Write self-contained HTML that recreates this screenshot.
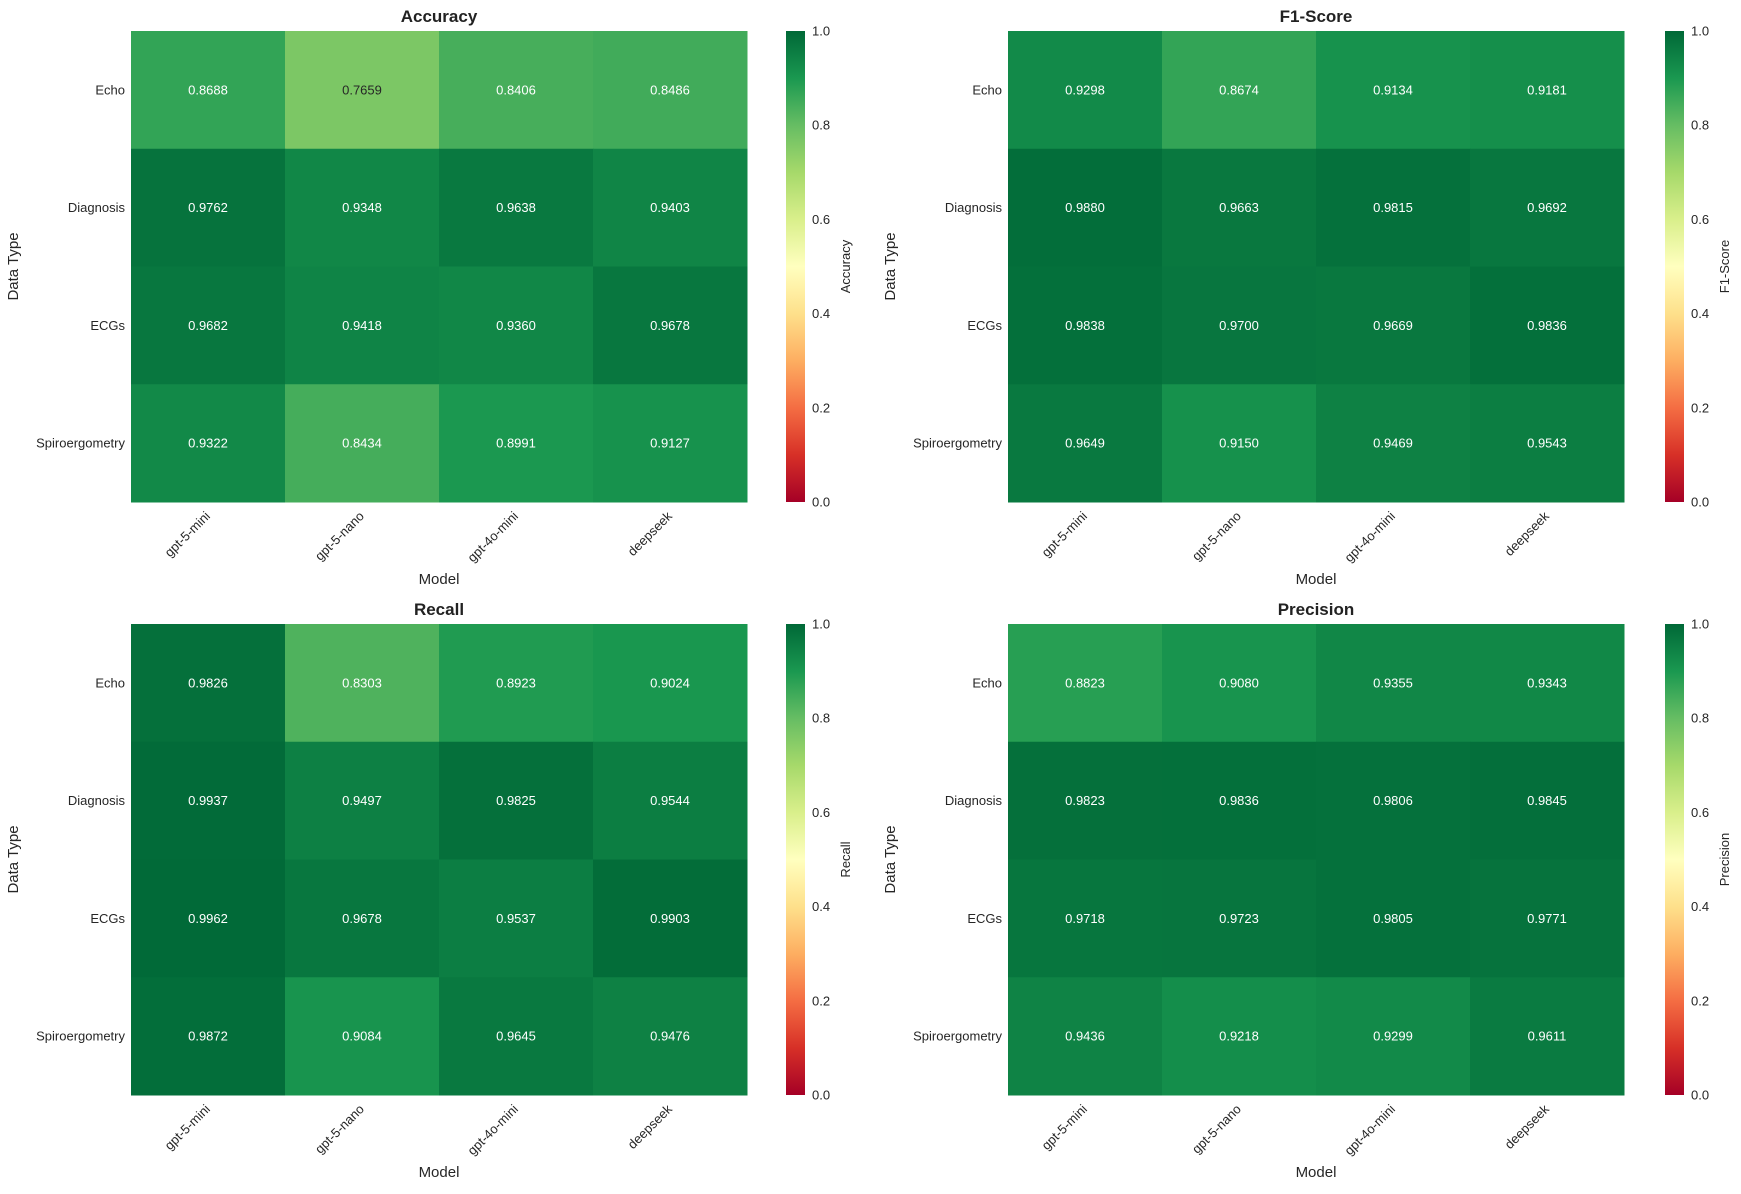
<!DOCTYPE html>
<html><head><meta charset="utf-8"><style>
body{margin:0;background:#fff;}
svg text{font-family:"Liberation Sans",Arial,sans-serif;}
</style></head><body>
<svg id="fig" width="1741" height="1189" xmlns="http://www.w3.org/2000/svg"></svg>
<script>
const models = ["gpt-5-mini","gpt-5-nano","gpt-4o-mini","deepseek"];
const dataTypes = ["Echo","Diagnosis","ECGs","Spiroergometry"];
const accuracyValues = [[0.8688,0.7659,0.8406,0.8486],[0.9762,0.9348,0.9638,0.9403],[0.9682,0.9418,0.9360,0.9678],[0.9322,0.8434,0.8991,0.9127]];
const f1Values = [[0.9298,0.8674,0.9134,0.9181],[0.9880,0.9663,0.9815,0.9692],[0.9838,0.9700,0.9669,0.9836],[0.9649,0.9150,0.9469,0.9543]];
const recallValues = [[0.9826,0.8303,0.8923,0.9024],[0.9937,0.9497,0.9825,0.9544],[0.9962,0.9678,0.9537,0.9903],[0.9872,0.9084,0.9645,0.9476]];
const precisionValues = [[0.8823,0.9080,0.9355,0.9343],[0.9823,0.9836,0.9806,0.9845],[0.9718,0.9723,0.9805,0.9771],[0.9436,0.9218,0.9299,0.9611]];
const colorbarTicks = ["0.0","0.2","0.4","0.6","0.8","1.0"];

const stops=["#a50026","#d73027","#f46d43","#fdae61","#fee08b","#ffffbf","#d9ef8b","#a6d96a","#66bd63","#1a9850","#006837"].map(h=>[parseInt(h.slice(1,3),16),parseInt(h.slice(3,5),16),parseInt(h.slice(5,7),16)]);
function cmap(v){v=Math.max(0,Math.min(1,v));const p=v*10;const i=Math.min(9,Math.floor(p));const t=p-i;const a=stops[i],b=stops[i+1];return [0,1,2].map(k=>Math.round(a[k]+(b[k]-a[k])*t));}
function lum(c){const f=x=>{x/=255;return x<=0.03928?x/12.92:Math.pow((x+0.055)/1.055,2.4);};return 0.2126*f(c[0])+0.7152*f(c[1])+0.0722*f(c[2]);}
const svg=document.getElementById('fig');const NS="http://www.w3.org/2000/svg";
function el(tag,attrs,parent,text){const e=document.createElementNS(NS,tag);for(const k in attrs)e.setAttribute(k,attrs[k]);if(text!==undefined)e.textContent=text;(parent||svg).appendChild(e);return e;}

const defs=el('defs',{});
const grad=el('linearGradient',{id:'cg',x1:0,y1:1,x2:0,y2:0},defs);
for(let i=0;i<=20;i++){const c=cmap(i/20);el('stop',{offset:(i/20),'stop-color':`rgb(${c})`},grad);}

function panel(title,vals,x0,y0,cbx,key){
  const W=616,H=471;const cw=W/models.length,ch=H/dataTypes.length;
  const xPos=j=>x0+j*cw, yPos=i=>y0+i*ch;
  const g=el('g',{});
  
  
  const t=el('text',{x:x0+W/2,y:y0-9,'text-anchor':'middle','font-size':17,'font-weight':'bold',fill:'#222'},g,title);
  
  
  vals.forEach((row,i)=>row.forEach((v,j)=>{
    const c=cmap(v);
    const r=el('rect',{x:xPos(j),y:yPos(i),width:cw+0.5,height:ch+0.5,fill:`rgb(${c})`},g);
    
    
    const tx=el('text',{x:xPos(j)+cw/2,y:yPos(i)+ch/2+4.5,'text-anchor':'middle','font-size':13,fill:lum(c)>0.408?'#262626':'#fff'},g,v.toFixed(4));
    
    
  }));
  dataTypes.forEach((d,i)=>{
    const tl=el('text',{x:x0-6,y:yPos(i)+ch/2+4.5,'text-anchor':'end','font-size':13,fill:'#262626'},g,d);
    
    
  });
  models.forEach((m,j)=>{
    const cx=xPos(j)+cw/2-4, cy=y0+H+8;
    const tl=el('text',{x:cx,y:cy,'text-anchor':'end','font-size':13,fill:'#262626',transform:`rotate(-45 ${cx} ${cy})`,dy:'0.75em'},g,m);
    
    
  });
  const yx=x0-113, yy=y0+H/2;
  const yl=el('text',{x:yx,y:yy,'text-anchor':'middle','font-size':15,fill:'#262626',transform:`rotate(-90 ${yx} ${yy})`},g,'Data Type');
  
  
  const xl=el('text',{x:x0+W/2,y:y0+H+82,'text-anchor':'middle','font-size':15,fill:'#262626'},g,'Model');
  
  
  const cb=el('rect',{x:cbx,y:y0,width:19,height:H,fill:'url(#cg)'},g);
  
  
  colorbarTicks.forEach(tk=>{
    const ty=y0+H-parseFloat(tk)*H;
    const tt=el('text',{x:cbx+26,y:ty+4.5,'font-size':13,fill:'#262626'},g,tk);
    
    
  });
  const lx=cbx+64, ly=y0+H/2;
  const cl=el('text',{x:lx,y:ly,'text-anchor':'middle','font-size':13,fill:'#262626',transform:`rotate(-90 ${lx} ${ly})`},g,title);
  
  
}
panel('Accuracy',accuracyValues,131,31,786,'accuracy');
panel('F1-Score',f1Values,1008,31,1665,'f1-score');
panel('Recall',recallValues,131,624,786,'recall');
panel('Precision',precisionValues,1008,624,1665,'precision');
</script>
</body></html>
